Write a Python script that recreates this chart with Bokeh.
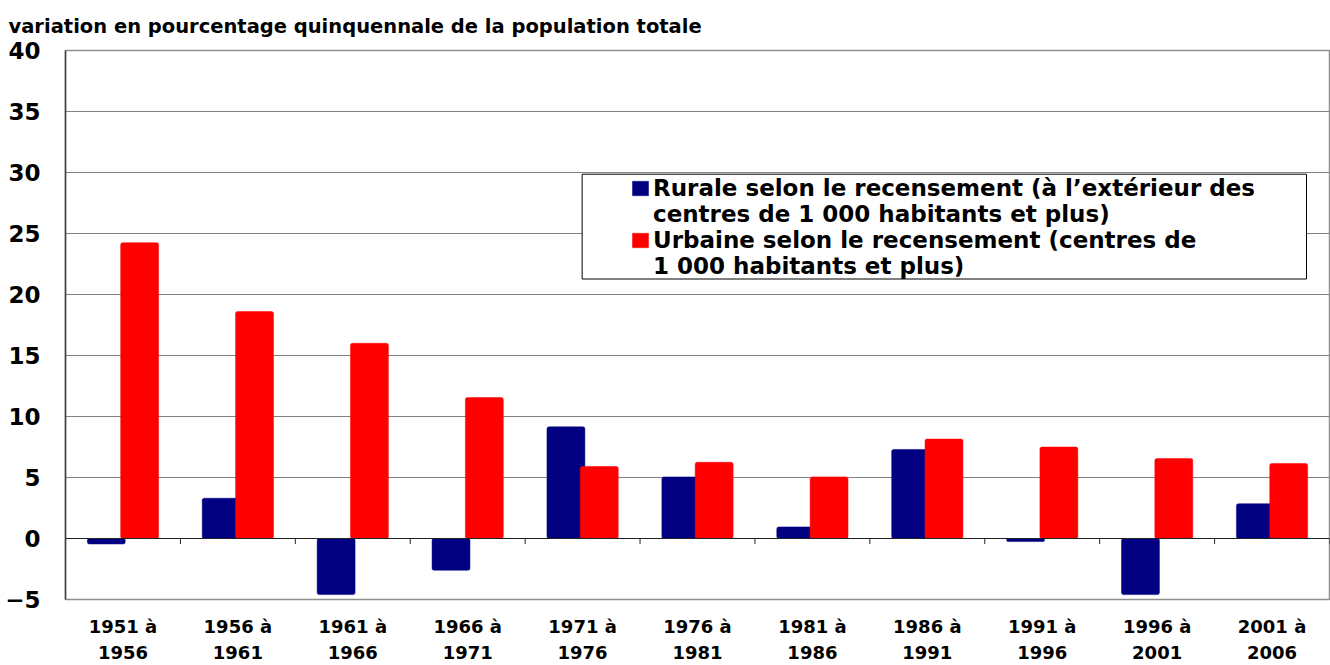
from bokeh.plotting import figure
from bokeh.models import (Range1d, FixedTicker, Legend, LegendItem, Span,
                          ColumnDataSource)
from bokeh.embed import file_html
from bokeh.resources import INLINE

periods = ["1951 à\n1956", "1956 à\n1961", "1961 à\n1966", "1966 à\n1971",
           "1971 à\n1976", "1976 à\n1981", "1981 à\n1986", "1986 à\n1991",
           "1991 à\n1996", "1996 à\n2001", "2001 à\n2006"]
rurale = [-0.45, 3.3, -4.6, -2.6, 9.15, 5.05, 0.95, 7.3, -0.25, -4.6, 2.85]
urbaine = [24.25, 18.6, 16.0, 11.55, 5.9, 6.25, 5.05, 8.15, 7.5, 6.55, 6.15]
y_ticks = [-5, 0, 5, 10, 15, 20, 25, 30, 35, 40]
legend_lines_rurale = ["Rurale selon le recensement (à l’extérieur des",
                       "centres de 1 000 habitants et plus)"]
legend_lines_urbaine = ["Urbaine selon le recensement (centres de",
                        "1 000 habitants et plus)"]

FONT = "DejaVu Sans"
n = len(periods)
centers = [i + 0.5 for i in range(n)]
offset = 0.145
bw = 0.33

p = figure(width=1330, height=665, output_backend="svg", toolbar_location=None,
           x_range=Range1d(0, n), y_range=Range1d(-5, 40),
           min_border_left=65, min_border_right=1, min_border_top=50,
           min_border_bottom=60)

p.title.text = "variation en pourcentage quinquennale de la population totale"
p.title.text_font = FONT
p.title.text_font_size = "19.5px"
p.title.text_font_style = "bold"
p.title.text_color = "black"
p.title.align = "left"
p.title.offset = -57
p.title.standoff = 25

src = ColumnDataSource(dict(
    xr=[c - offset for c in centers], xu=[c + offset for c in centers],
    rurale=rurale, urbaine=urbaine))

r1 = p.vbar(x="xr", top="rurale", bottom=0, width=bw, source=src,
            fill_color="#000080", line_color="#000080", line_width=0.5,
            border_radius=2)
r2 = p.vbar(x="xu", top="urbaine", bottom=0, width=bw, source=src,
            fill_color="#FF0000", line_color="#FF0000", line_width=0.5,
            border_radius=2)
# empty, transparent renderer for second legend lines
r_blank = p.vbar(x=[], top=[], width=bw, fill_alpha=0, line_alpha=0)

# zero line with category-boundary tick marks
p.add_layout(Span(location=0, dimension="width", line_color="#202020",
                  line_width=1, level="glyph"))
bounds = list(range(1, n + 1))
p.segment(x0=bounds, x1=bounds, y0=[0] * len(bounds), y1=[-0.45] * len(bounds),
          line_color="#202020", line_width=1)

# legend box
p.quad(left=[4.496], right=[10.8], top=[29.86], bottom=[21.27],
       fill_color="white", line_color="black", line_width=1)

legend = Legend(items=[
    LegendItem(label=legend_lines_rurale[0], renderers=[r1]),
    LegendItem(label=legend_lines_rurale[1], renderers=[r_blank]),
    LegendItem(label=legend_lines_urbaine[0], renderers=[r2]),
    LegendItem(label=legend_lines_urbaine[1], renderers=[r_blank]),
], location=(563, 318), orientation="vertical")
legend.label_text_font = FONT
legend.label_text_font_size = "23px"
legend.label_text_font_style = "bold"
legend.label_text_color = "black"
legend.label_height = 25
legend.glyph_width = 20
legend.glyph_height = 18
legend.label_standoff = 3
legend.spacing = 0
legend.padding = 2
legend.margin = 0
legend.border_line_alpha = 0
legend.background_fill_alpha = 0
p.add_layout(legend)

# axes
p.yaxis.ticker = FixedTicker(ticks=y_ticks)
p.yaxis.major_label_text_font = FONT
p.yaxis.major_label_text_font_size = "23px"
p.yaxis.major_label_text_font_style = "bold"
p.yaxis.major_label_text_color = "black"
p.yaxis.axis_line_color = "#404040"
p.yaxis.axis_line_width = 1.5
p.yaxis.major_tick_line_color = None
p.yaxis.minor_tick_line_color = None
p.yaxis.major_label_standoff = 19

p.xaxis.ticker = FixedTicker(ticks=centers)
p.xaxis.major_label_overrides = {c: lab for c, lab in zip(centers, periods)}
p.xaxis.major_label_text_font = FONT
p.xaxis.major_label_text_font_size = "18px"
p.xaxis.major_label_text_font_style = "bold"
p.xaxis.major_label_text_color = "black"
p.xaxis.major_label_text_line_height = 1.25
p.xaxis.axis_line_color = None
p.xaxis.major_tick_line_color = None
p.xaxis.minor_tick_line_color = None
p.xaxis.major_label_standoff = 10

p.xgrid.grid_line_color = None
p.ygrid.ticker = FixedTicker(ticks=y_ticks)
p.ygrid.grid_line_color = "#808080"
p.ygrid.grid_line_width = 1

p.outline_line_color = "#909090"
p.outline_line_width = 1.5
p.background_fill_color = "white"
p.border_fill_color = "white"

open("out.html", "w").write(file_html(p, INLINE))
